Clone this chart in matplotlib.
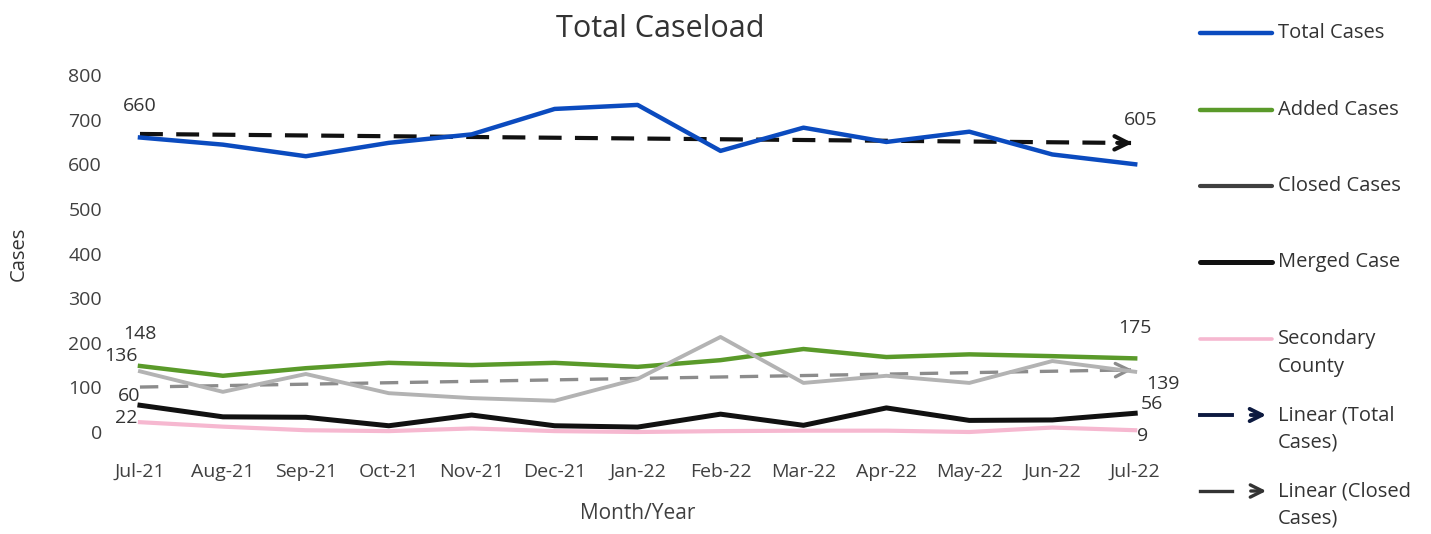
import numpy as np
import matplotlib.pyplot as plt
from matplotlib.lines import Line2D
from matplotlib.patches import FancyArrowPatch

plt.rcParams['font.family'] = ['Open Sans', 'DejaVu Sans']

months = ['Jul-21', 'Aug-21', 'Sep-21', 'Oct-21', 'Nov-21', 'Dec-21', 'Jan-22',
          'Feb-22', 'Mar-22', 'Apr-22', 'May-22', 'Jun-22', 'Jul-22']
total_cases = [660, 644, 618, 648, 667, 724, 733, 630, 682, 650, 673, 622, 600]
added_cases = [148, 126, 143, 155, 150, 155, 146, 161, 186, 168, 174, 170, 165]
closed_cases = [136, 90, 130, 87, 76, 70, 119, 213, 110, 126, 110, 159, 135]
merged_cases = [60, 34, 33, 14, 38, 14, 11, 40, 15, 54, 26, 27, 42]
secondary_county = [22, 12, 4, 2, 8, 2, 0, 2, 3, 3, 0, 10, 4]

# text shown at first/last point (Excel data labels) with offset in points
end_labels = [
    (total_cases, 0, '660', (0, 23)), (total_cases, 12, '605', (4, 32)),
    (added_cases, 0, '148', (0, 23)), (added_cases, 12, '175', (0, 22)),
    (closed_cases, 0, '136', (-14, 11)), (closed_cases, 12, '139', (20, -9)),
    (merged_cases, 0, '60', (-8, 7)), (merged_cases, 12, '56', (12, 7)),
    (secondary_county, 0, '22', (-10, 3)), (secondary_county, 12, '9', (5, -4)),
]

fig = plt.figure(figsize=(14.31, 5.34), dpi=100)
ax = fig.add_axes([0.0839, 0.191, 0.7233, 0.6685])

x = np.arange(len(months))

def trend(values, color, lw, dash):
    k, b = np.polyfit(x, values, 1)
    xs = np.append(x[:-1], x[-1] - 0.05)
    ax.plot(xs, k * xs + b, color=color, lw=lw, dashes=dash, zorder=2, clip_on=False)
    ye = k * x[-1] + b
    ax.annotate('', xy=(x[-1], ye), xytext=(x[-1] - 0.25, ye - k * 0.25),
                arrowprops=dict(arrowstyle='->', color=color, lw=lw, mutation_scale=24),
                zorder=2)

ax.plot(x, total_cases, color='#0b4bbf', lw=3.2, zorder=3, clip_on=False)
ax.plot(x, added_cases, color='#5a9a2a', lw=3.2, zorder=3, clip_on=False)
ax.plot(x, closed_cases, color='#b3b3b3', lw=2.8, zorder=3, clip_on=False)
ax.plot(x, merged_cases, color='#111111', lw=3.6, zorder=3, clip_on=False)
ax.plot(x, secondary_county, color='#f6b8d0', lw=3.0, zorder=3, clip_on=False)
trend(total_cases, '#111111', 3.0, (5.5, 3.2))
trend(closed_cases, '#8c8c8c', 2.4, (5.5, 3.5))

for series, i, txt, off in end_labels:
    ax.annotate(txt, xy=(x[i], series[i]), xytext=off,
                textcoords='offset points', ha='center', va='center',
                fontsize=14, color='#333333')

ax.set_xlim(-0.24, 12.24)
ax.set_ylim(0, 800)
ax.set_yticks(range(0, 801, 100))
ax.set_xticks(x)
ax.set_xticklabels(months)
ax.tick_params(length=0, labelsize=14, colors='#404040')
ax.tick_params(axis='x', pad=22)
ax.tick_params(axis='y', pad=13)
for s in ax.spines.values():
    s.set_visible(False)

fig.text(660 / 1431, 1 - 29 / 534, 'Total Caseload', fontsize=22, color='#333333',
         ha='center', va='center')
ax.set_ylabel('Cases', fontsize=14.5, color='#333333')
ax.yaxis.set_label_coords(-0.088, 0.5)
ax.set_xlabel('Month/Year', fontsize=15, color='#404040')
ax.xaxis.set_label_coords(0.5, -0.2)

# legend drawn by hand to follow the uneven spacing of the original
W, H = 1431, 534
legend_items = [
    ('Total Cases', 33, dict(color='#0b4bbf', lw=3.2), False),
    ('Added Cases', 110, dict(color='#5a9a2a', lw=3.2), False),
    ('Closed Cases', 186, dict(color='#404040', lw=3.0), False),
    ('Merged Case', 262, dict(color='#111111', lw=3.6), False),
    ('Secondary\nCounty', 339, dict(color='#f6b8d0', lw=2.6), False),
    ('Linear (Total\nCases)', 415, dict(color='#0d1a40', lw=2.8), True),
    ('Linear (Closed\nCases)', 491, dict(color='#333333', lw=2.4), True),
]
for label, ypx, style, arrow in legend_items:
    yf = 1 - ypx / H
    x0, x1 = 1200 / W, 1272 / W
    if arrow:
        fig.add_artist(Line2D([x0, 1232 / W], [yf, yf], transform=fig.transFigure, **style))
        fig.add_artist(FancyArrowPatch((1248 / W, yf), (1269 / W, yf), transform=fig.transFigure,
                                       arrowstyle='->', mutation_scale=22, color=style['color'],
                                       lw=style['lw']))
    else:
        fig.add_artist(Line2D([x0, x1], [yf, yf], transform=fig.transFigure,
                              solid_capstyle='round', **style))
    n = label.count('\n')
    fig.text(1278 / W, 1 - (ypx + n * 14) / H, label, fontsize=14.5, color='#333333',
             va='center', ha='left', linespacing=1.5)

fig.savefig('out.png', dpi=100)
